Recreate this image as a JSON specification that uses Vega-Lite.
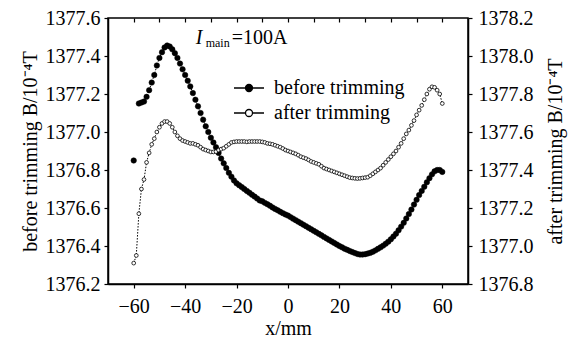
{
  "$schema": "https://vega.github.io/schema/vega-lite/v6.json",
  "width": 360,
  "height": 266,
  "autosize": {"type": "none"},
  "padding": {"left": 108, "top": 18, "right": 101, "bottom": 60},
  "background": "white",
  "config": {
    "font": "Liberation Serif",
    "view": {"stroke": "black", "strokeWidth": 1.5},
    "axis": {
      "grid": false,
      "labelFont": "Liberation Serif",
      "titleFont": "Liberation Serif",
      "labelFontSize": 20,
      "titleFontSize": 20,
      "titleFontWeight": "normal",
      "labelColor": "black",
      "titleColor": "black",
      "domainColor": "black",
      "tickColor": "black",
      "domainWidth": 1.5,
      "tickWidth": 1.2,
      "labelOverlap": false
    },
    "legend": {
      "labelFont": "Liberation Serif",
      "labelFontSize": 20,
      "labelColor": "black"
    }
  },
  "data": {
    "values": [
      {"x": -60, "before": 1376.85, "after": 1376.91},
      {"x": -59, "after": 1376.95},
      {"x": -58, "before": 1377.15, "after": 1377.17},
      {"x": -57, "before": 1377.155, "after": 1377.3},
      {"x": -56, "before": 1377.16, "after": 1377.35},
      {"x": -55, "before": 1377.185, "after": 1377.44},
      {"x": -54, "before": 1377.22, "after": 1377.49},
      {"x": -53, "before": 1377.26, "after": 1377.535},
      {"x": -52, "before": 1377.3, "after": 1377.565},
      {"x": -51, "before": 1377.35, "after": 1377.6},
      {"x": -50, "before": 1377.39, "after": 1377.625},
      {"x": -49, "before": 1377.42, "after": 1377.645},
      {"x": -48, "before": 1377.445, "after": 1377.655},
      {"x": -47, "before": 1377.455, "after": 1377.655},
      {"x": -46, "before": 1377.45, "after": 1377.645},
      {"x": -45, "before": 1377.435, "after": 1377.625},
      {"x": -44, "before": 1377.415, "after": 1377.6},
      {"x": -43, "before": 1377.39, "after": 1377.58},
      {"x": -42, "before": 1377.36, "after": 1377.565},
      {"x": -41, "before": 1377.33, "after": 1377.555},
      {"x": -40, "before": 1377.3, "after": 1377.55},
      {"x": -39, "before": 1377.27, "after": 1377.545},
      {"x": -38, "before": 1377.24, "after": 1377.54},
      {"x": -37, "before": 1377.205, "after": 1377.54},
      {"x": -36, "before": 1377.17, "after": 1377.535},
      {"x": -35, "before": 1377.135, "after": 1377.53},
      {"x": -34, "before": 1377.1, "after": 1377.52},
      {"x": -33, "before": 1377.065, "after": 1377.51},
      {"x": -32, "before": 1377.03, "after": 1377.505},
      {"x": -31, "before": 1377.0, "after": 1377.5},
      {"x": -30, "before": 1376.97, "after": 1377.495},
      {"x": -29, "before": 1376.945, "after": 1377.495},
      {"x": -28, "before": 1376.92, "after": 1377.497},
      {"x": -27, "before": 1376.89, "after": 1377.505},
      {"x": -26, "before": 1376.86, "after": 1377.51},
      {"x": -25, "before": 1376.835, "after": 1377.515},
      {"x": -24, "before": 1376.81, "after": 1377.525},
      {"x": -23, "before": 1376.785, "after": 1377.535},
      {"x": -22, "before": 1376.765, "after": 1377.545},
      {"x": -21, "before": 1376.745, "after": 1377.548},
      {"x": -20, "before": 1376.73, "after": 1377.55},
      {"x": -19, "before": 1376.72, "after": 1377.55},
      {"x": -18, "before": 1376.71, "after": 1377.55},
      {"x": -17, "before": 1376.7, "after": 1377.55},
      {"x": -16, "before": 1376.69, "after": 1377.548},
      {"x": -15, "before": 1376.68, "after": 1377.55},
      {"x": -14, "before": 1376.67, "after": 1377.55},
      {"x": -13, "before": 1376.66, "after": 1377.55},
      {"x": -12, "before": 1376.65, "after": 1377.55},
      {"x": -11, "before": 1376.64, "after": 1377.55},
      {"x": -10, "before": 1376.635, "after": 1377.548},
      {"x": -9, "before": 1376.627, "after": 1377.545},
      {"x": -8, "before": 1376.62, "after": 1377.54},
      {"x": -7, "before": 1376.612, "after": 1377.538},
      {"x": -6, "before": 1376.603, "after": 1377.535},
      {"x": -5, "before": 1376.595, "after": 1377.53},
      {"x": -4, "before": 1376.588, "after": 1377.525},
      {"x": -3, "before": 1376.58, "after": 1377.52},
      {"x": -2, "before": 1376.573, "after": 1377.513},
      {"x": -1, "before": 1376.566, "after": 1377.505},
      {"x": 0, "before": 1376.56, "after": 1377.5},
      {"x": 1, "before": 1376.552, "after": 1377.495},
      {"x": 2, "before": 1376.544, "after": 1377.49},
      {"x": 3, "before": 1376.536, "after": 1377.485},
      {"x": 4, "before": 1376.528, "after": 1377.478},
      {"x": 5, "before": 1376.52, "after": 1377.47},
      {"x": 6, "before": 1376.512, "after": 1377.465},
      {"x": 7, "before": 1376.504, "after": 1377.46},
      {"x": 8, "before": 1376.496, "after": 1377.453},
      {"x": 9, "before": 1376.488, "after": 1377.445},
      {"x": 10, "before": 1376.48, "after": 1377.44},
      {"x": 11, "before": 1376.472, "after": 1377.435},
      {"x": 12, "before": 1376.464, "after": 1377.43},
      {"x": 13, "before": 1376.456, "after": 1377.42},
      {"x": 14, "before": 1376.448, "after": 1377.41},
      {"x": 15, "before": 1376.44, "after": 1377.405},
      {"x": 16, "before": 1376.432, "after": 1377.4},
      {"x": 17, "before": 1376.424, "after": 1377.395},
      {"x": 18, "before": 1376.416, "after": 1377.39},
      {"x": 19, "before": 1376.408, "after": 1377.385},
      {"x": 20, "before": 1376.4, "after": 1377.38},
      {"x": 21, "before": 1376.393, "after": 1377.375},
      {"x": 22, "before": 1376.386, "after": 1377.37},
      {"x": 23, "before": 1376.38, "after": 1377.365},
      {"x": 24, "before": 1376.374, "after": 1377.36},
      {"x": 25, "before": 1376.368, "after": 1377.358},
      {"x": 26, "before": 1376.363, "after": 1377.356},
      {"x": 27, "before": 1376.358, "after": 1377.355},
      {"x": 28, "before": 1376.355, "after": 1377.356},
      {"x": 29, "before": 1376.355, "after": 1377.358},
      {"x": 30, "before": 1376.357, "after": 1377.36},
      {"x": 31, "before": 1376.36, "after": 1377.362},
      {"x": 32, "before": 1376.364, "after": 1377.37},
      {"x": 33, "before": 1376.37, "after": 1377.38},
      {"x": 34, "before": 1376.377, "after": 1377.39},
      {"x": 35, "before": 1376.385, "after": 1377.4},
      {"x": 36, "before": 1376.393, "after": 1377.41},
      {"x": 37, "before": 1376.402, "after": 1377.425},
      {"x": 38, "before": 1376.412, "after": 1377.44},
      {"x": 39, "before": 1376.423, "after": 1377.455},
      {"x": 40, "before": 1376.435, "after": 1377.47},
      {"x": 41, "before": 1376.45, "after": 1377.485},
      {"x": 42, "before": 1376.465, "after": 1377.5},
      {"x": 43, "before": 1376.483, "after": 1377.52},
      {"x": 44, "before": 1376.502, "after": 1377.54},
      {"x": 45, "before": 1376.522, "after": 1377.565},
      {"x": 46, "before": 1376.545, "after": 1377.59},
      {"x": 47, "before": 1376.568, "after": 1377.61},
      {"x": 48, "before": 1376.592, "after": 1377.635},
      {"x": 49, "before": 1376.618, "after": 1377.66},
      {"x": 50, "before": 1376.643, "after": 1377.69},
      {"x": 51, "before": 1376.668, "after": 1377.715},
      {"x": 52, "before": 1376.69, "after": 1377.74},
      {"x": 53, "before": 1376.712, "after": 1377.77},
      {"x": 54, "before": 1376.735, "after": 1377.8},
      {"x": 55, "before": 1376.757, "after": 1377.825},
      {"x": 56, "before": 1376.777, "after": 1377.838},
      {"x": 57, "before": 1376.793, "after": 1377.835},
      {"x": 58, "before": 1376.8, "after": 1377.82},
      {"x": 59, "before": 1376.8, "after": 1377.8},
      {"x": 60, "before": 1376.79, "after": 1377.75}
    ]
  },
  "resolve": {"scale": {"y": "independent"}, "axis": {"x": "independent"}},
  "layer": [
    {
      "layer": [
        {
          "mark": {"type": "line", "color": "black", "strokeWidth": 1, "strokeDash": [1.5, 1.5]},
          "encoding": {
            "x": {
              "field": "x", "type": "quantitative",
              "scale": {"domain": [-70, 70], "nice": false},
              "axis": {"orient": "bottom", "values": [-60, -40, -20, 0, 20, 40, 60], "tickSize": 4, "labelPadding": 8, "labelOverlap": false, "title": "x/mm", "titlePadding": 2}
            },
            "y": {
              "field": "before", "type": "quantitative",
              "scale": {"domain": [1376.2, 1377.6], "nice": false, "zero": false},
              "axis": {"orient": "left", "values": [1376.2, 1376.4, 1376.6, 1376.8, 1377, 1377.2, 1377.4, 1377.6], "format": ".1f", "tickSize": 4, "labelPadding": 4, "labelOverlap": false, "labelBound": false, "title": "before trimming B/10⁻⁴T", "titleX": -78, "titleY": 133, "titleAngle": 270, "titleAlign": "center", "titleBaseline": "middle"}
            }
          }
        },
        {
          "mark": {"type": "point", "shape": "circle", "filled": true, "size": 30, "stroke": "black", "strokeWidth": 0.5, "opacity": 1},
          "encoding": {
            "x": {
              "field": "x", "type": "quantitative",
              "scale": {"domain": [-70, 70], "nice": false},
              "axis": {"orient": "bottom", "values": [-60, -40, -20, 0, 20, 40, 60], "tickSize": 4, "labelPadding": 8, "labelOverlap": false, "title": "x/mm", "titlePadding": 2}
            },
            "y": {
              "field": "before", "type": "quantitative",
              "scale": {"domain": [1376.2, 1377.6], "nice": false, "zero": false},
              "axis": {"orient": "left", "values": [1376.2, 1376.4, 1376.6, 1376.8, 1377, 1377.2, 1377.4, 1377.6], "format": ".1f", "tickSize": 4, "labelPadding": 4, "labelOverlap": false, "labelBound": false, "title": "before trimming B/10⁻⁴T", "titleX": -78, "titleY": 133, "titleAngle": 270, "titleAlign": "center", "titleBaseline": "middle"}
            },
            "fill": {
              "datum": "before trimming",
              "scale": {"domain": ["before trimming", "after trimming"], "range": ["black", "white"]},
              "legend": {
                "orient": "none", "legendX": 131, "legendY": 60, "padding": 0, "title": null,
                "symbolType": "M-2,0H-0.467M0.467,0H2M0.467,0A0.467,0.467,0,1,1,-0.467,0A0.467,0.467,0,1,1,0.467,0Z",
                "symbolSize": 225, "symbolStrokeColor": "black", "symbolStrokeWidth": 1.3,
                "labelOffset": 15, "rowPadding": 5, "labelFontSize": 20, "labelFont": "Liberation Serif"
              }
            }
          }
        },
        {
          "data": {"values": [{"t": "I", "sz": "big"}, {"t": "main", "sz": "small"}, {"t": "=100A", "sz": "big"}]},
          "transform": [{"filter": "datum.t === 'I'"}],
          "mark": {"type": "text", "fontSize": 20, "fontStyle": "italic", "align": "left", "baseline": "alphabetic", "color": "black", "font": "Liberation Serif"},
          "encoding": {
            "text": {"field": "t"},
            "x": {
              "datum": -35.9, "type": "quantitative",
              "scale": {"domain": [-70, 70], "nice": false},
              "axis": {"orient": "bottom", "values": [-60, -40, -20, 0, 20, 40, 60], "tickSize": 4, "labelPadding": 8, "labelOverlap": false, "title": "x/mm", "titlePadding": 2}
            },
            "y": {
              "datum": 1377.463, "type": "quantitative",
              "scale": {"domain": [1376.2, 1377.6], "nice": false, "zero": false},
              "axis": {"orient": "left", "values": [1376.2, 1376.4, 1376.6, 1376.8, 1377, 1377.2, 1377.4, 1377.6], "format": ".1f", "tickSize": 4, "labelPadding": 4, "labelOverlap": false, "labelBound": false, "title": "before trimming B/10⁻⁴T", "titleX": -78, "titleY": 133, "titleAngle": 270, "titleAlign": "center", "titleBaseline": "middle"}
            }
          }
        },
        {
          "data": {"values": [{"t": "main"}]},
          "mark": {"type": "text", "fontSize": 12, "align": "left", "baseline": "alphabetic", "dx": 10, "dy": 3, "color": "black", "font": "Liberation Serif"},
          "encoding": {
            "text": {"field": "t"},
            "x": {
              "datum": -35.9, "type": "quantitative",
              "scale": {"domain": [-70, 70], "nice": false},
              "axis": {"orient": "bottom", "values": [-60, -40, -20, 0, 20, 40, 60], "tickSize": 4, "labelPadding": 8, "labelOverlap": false, "title": "x/mm", "titlePadding": 2}
            },
            "y": {
              "datum": 1377.463, "type": "quantitative",
              "scale": {"domain": [1376.2, 1377.6], "nice": false, "zero": false},
              "axis": {"orient": "left", "values": [1376.2, 1376.4, 1376.6, 1376.8, 1377, 1377.2, 1377.4, 1377.6], "format": ".1f", "tickSize": 4, "labelPadding": 4, "labelOverlap": false, "labelBound": false, "title": "before trimming B/10⁻⁴T", "titleX": -78, "titleY": 133, "titleAngle": 270, "titleAlign": "center", "titleBaseline": "middle"}
            }
          }
        },
        {
          "data": {"values": [{"t": "=100A"}]},
          "mark": {"type": "text", "fontSize": 20, "align": "left", "baseline": "alphabetic", "dx": 36, "color": "black", "font": "Liberation Serif"},
          "encoding": {
            "text": {"field": "t"},
            "x": {
              "datum": -35.9, "type": "quantitative",
              "scale": {"domain": [-70, 70], "nice": false},
              "axis": {"orient": "bottom", "values": [-60, -40, -20, 0, 20, 40, 60], "tickSize": 4, "labelPadding": 8, "labelOverlap": false, "title": "x/mm", "titlePadding": 2}
            },
            "y": {
              "datum": 1377.463, "type": "quantitative",
              "scale": {"domain": [1376.2, 1377.6], "nice": false, "zero": false},
              "axis": {"orient": "left", "values": [1376.2, 1376.4, 1376.6, 1376.8, 1377, 1377.2, 1377.4, 1377.6], "format": ".1f", "tickSize": 4, "labelPadding": 4, "labelOverlap": false, "labelBound": false, "title": "before trimming B/10⁻⁴T", "titleX": -78, "titleY": 133, "titleAngle": 270, "titleAlign": "center", "titleBaseline": "middle"}
            }
          }
        }
      ]
    },
    {
      "layer": [
        {
          "mark": {"type": "line", "color": "black", "strokeWidth": 1, "strokeDash": [1.5, 1.5]},
          "encoding": {
            "x": {
              "field": "x", "type": "quantitative",
              "axis": {"orient": "top", "values": [-60, -50, -40, -30, -20, -10, 0, 10, 20, 30, 40, 50, 60], "labels": false, "tickSize": -4, "domain": false, "title": null}
            },
            "y": {
              "field": "after", "type": "quantitative",
              "scale": {"domain": [1376.8, 1378.2], "nice": false, "zero": false},
              "axis": {"orient": "right", "values": [1376.8, 1377, 1377.2, 1377.4, 1377.6, 1377.8, 1378, 1378.2], "format": ".1f", "tickSize": 4, "labelPadding": 6, "labelOverlap": false, "labelBound": false, "title": "after trimming B/10⁻⁴T", "titleX": 87, "titleY": 133, "titleAngle": 270, "titleAlign": "center", "titleBaseline": "middle"}
            }
          }
        },
        {
          "mark": {"type": "point", "shape": "circle", "filled": true, "size": 14, "stroke": "black", "strokeWidth": 0.8, "opacity": 1},
          "encoding": {
            "x": {
              "field": "x", "type": "quantitative",
              "axis": {"orient": "top", "values": [-60, -50, -40, -30, -20, -10, 0, 10, 20, 30, 40, 50, 60], "labels": false, "tickSize": -4, "domain": false, "title": null}
            },
            "y": {
              "field": "after", "type": "quantitative",
              "scale": {"domain": [1376.8, 1378.2], "nice": false, "zero": false},
              "axis": {"orient": "right", "values": [1376.8, 1377, 1377.2, 1377.4, 1377.6, 1377.8, 1378, 1378.2], "format": ".1f", "tickSize": 4, "labelPadding": 6, "labelOverlap": false, "labelBound": false, "title": "after trimming B/10⁻⁴T", "titleX": 87, "titleY": 133, "titleAngle": 270, "titleAlign": "center", "titleBaseline": "middle"}
            },
            "fill": {"datum": "after trimming"}
          }
        }
      ]
    }
  ]
}
